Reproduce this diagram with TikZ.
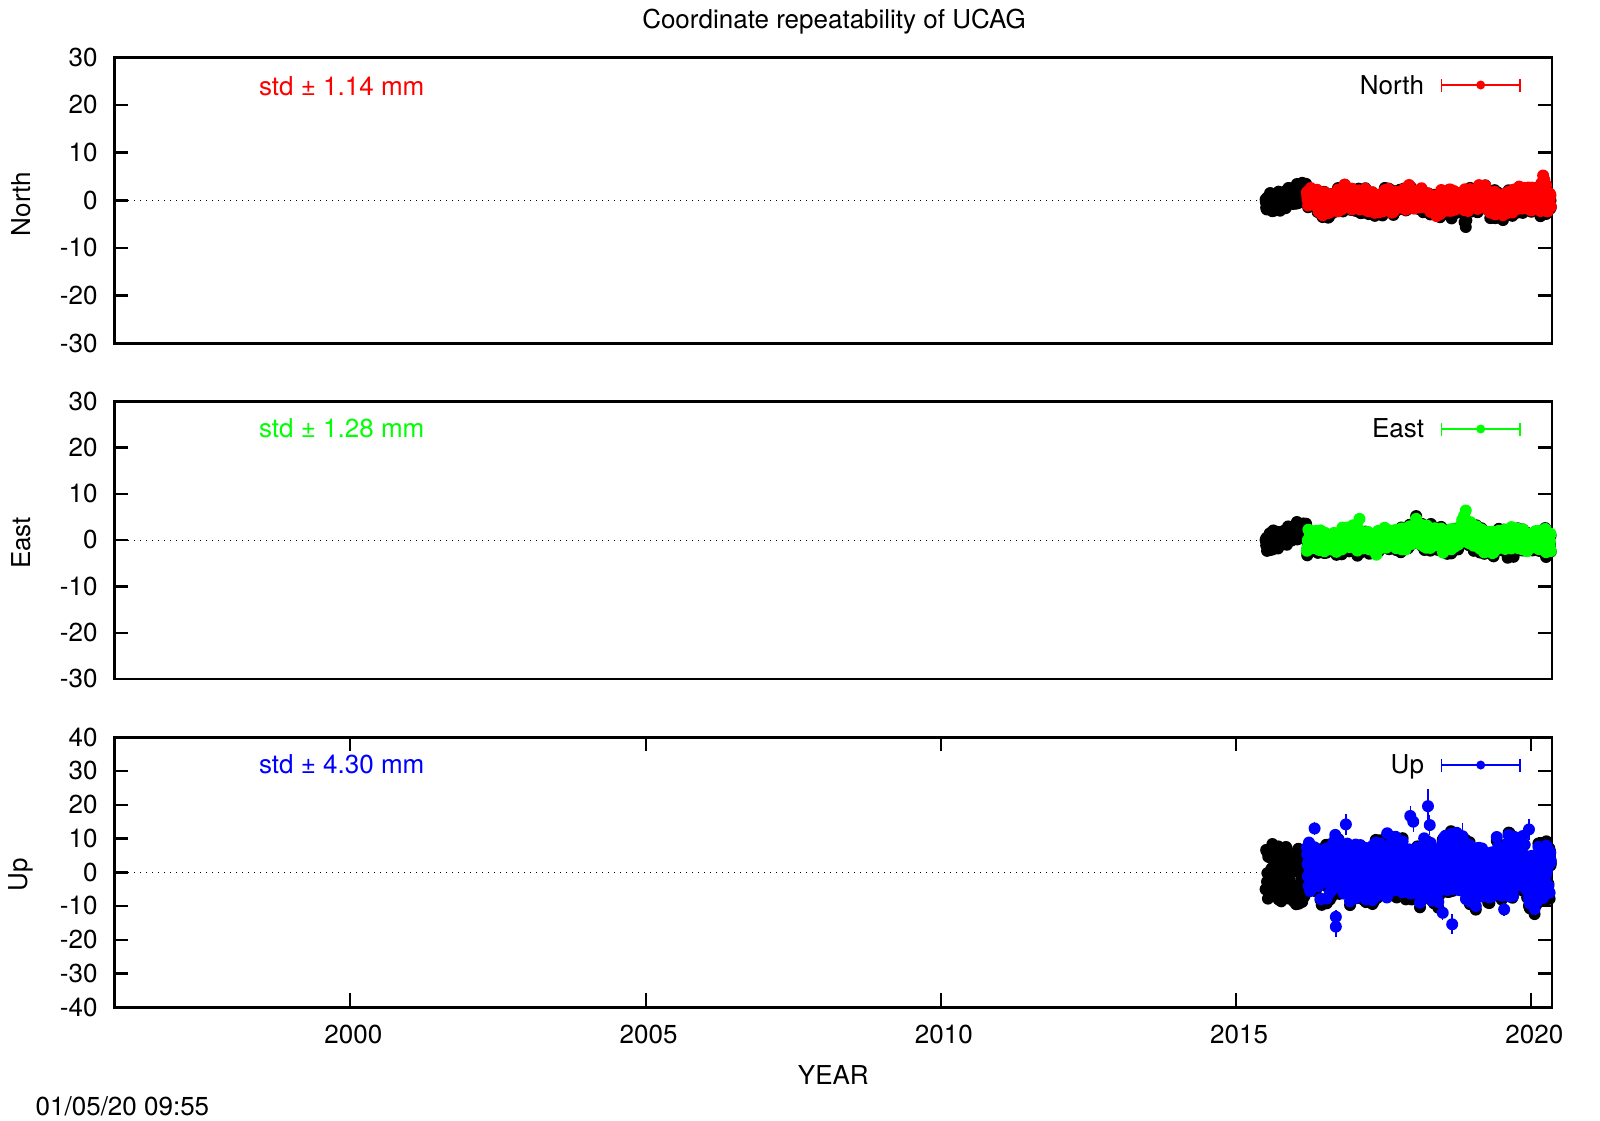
\documentclass[tikz,border=0pt]{standalone}
\usepackage{fontspec}
\setmainfont{TeX Gyre Heros}
\definecolor{gpred}{RGB}{255,0,0}
\definecolor{gpgreen}{RGB}{0,255,0}
\definecolor{gpblue}{RGB}{0,0,255}
\begin{document}
\begin{tikzpicture}[x=1bp,y=-1bp,
  txt/.style={font=\fontsize{26bp}{30bp}\selectfont,inner sep=0pt,outer sep=0pt},
  frm/.style={line width=2.4bp},
  tk/.style={line width=2.4bp},
  xtk/.style={line width=2bp},
  zeroline/.style={line width=1.1bp,dash pattern=on 1.1bp off 4.9bp},
  ebar/.style={line width=1.4bp},
]
\useasboundingbox (0,0) rectangle (1600,1120);

% ---------- title, axis labels, timestamp
\node[txt,anchor=base] (title) at (834,28.3) {Coordinate repeatability of UCAG};
\node[txt,anchor=base] (xlab) at (833.3,1084.3) {YEAR};
\node[txt,anchor=base west] (stamp) at (35.7,1115) {01/05/20 09:55};
\node[txt,rotate=90] (ylN) at (21,204) {North};
\node[txt,rotate=90] (ylE) at (21,543) {East};
\node[txt,rotate=90] (ylU) at (21,875) {Up};

% ---------- frames
\draw[frm] (114.3,57.3) rectangle (1551.7,343.3);
\draw[frm] (114.3,401.3) rectangle (1551.7,679);
\draw[frm] (114.3,737.3) rectangle (1551.7,1007.3);

% ---------- y ticks panel 1
\foreach \v [count=\k] in {-30,-20,...,30}{
  \pgfmathsetmacro\py{200.3-(\v)*4.7667}
  \draw[tk] (114.3,\py) -- (128.3,\py) (1551.7,\py) -- (1537.7,\py);
  \node[txt,anchor=base east] (pNl\k) at (97.5,\py+8.7) {\v};
}
% ---------- y ticks panel 2
\foreach \v [count=\k] in {-30,-20,...,30}{
  \pgfmathsetmacro\py{540.15-(\v)*4.6283}
  \draw[tk] (114.3,\py) -- (128.3,\py) (1551.7,\py) -- (1537.7,\py);
  \node[txt,anchor=base east] (pEl\k) at (97.5,\py+8.7) {\v};
}
% ---------- y ticks panel 3
\foreach \v [count=\k] in {-40,-30,...,40}{
  \pgfmathsetmacro\py{872.3-(\v)*3.375}
  \draw[tk] (114.3,\py) -- (128.3,\py) (1551.7,\py) -- (1537.7,\py);
  \node[txt,anchor=base east] (pUl\k) at (97.5,\py+8.7) {\v};
}
% ---------- x ticks panel 3
\foreach \yr [count=\k] in {2000,2005,2010,2015,2020}{
  \pgfmathsetmacro\px{350.3+(\yr-2000)*59.05}
  \draw[xtk] (\px,1007.3) -- (\px,993.3) (\px,737.3) -- (\px,751.3);
  \node[txt,anchor=base] (xl\k) at (\px+3,1043.3) {\yr};
}

% ---------- zero lines
\draw[zeroline] (128,200.3) -- (1550,200.3);
\draw[zeroline] (128,540.15) -- (1550,540.15);
\draw[zeroline] (128,872.3) -- (1550,872.3);

% ================= NORTH data
\pgfmathsetseed{11}
\foreach \i in {0,...,826}{
  \pgfmathsetmacro\u{1.2+0.005*\i}
  \pgfmathsetmacro\v{0.5*sin(360*(\u-1.75))+0.4*sin(610*\u+30)+1.9*rand+1.0*rand}
  \expandafter\xdef\csname dN\i\endcsname{\v}
}
\foreach \i in {0,...,139}{
  \pgfmathsetmacro\u{0.5+0.005*\i}
  \pgfmathsetmacro\v{-1+3.2*(\u-0.5)/0.7+1.6*rand+0.8*rand}
  \pgfmathsetmacro\px{350.3+(15+\u)*59.05}
  \fill (\px,{200.3-(\v)*4.7667}) circle[radius=6bp];
}
\foreach \i in {0,...,826}{
  \edef\vv{\csname dN\i\endcsname}
  \pgfmathsetmacro\v{\vv+0.8*rand-0.35}
  \pgfmathsetmacro\px{1306.91+0.29525*\i}
  \fill (\px,{200.3-(\v)*4.7667}) circle[radius=6bp];
}
\foreach \yr/\v in {2018.89/-5.6,2018.87/-4.6,2018.65/-3.8,2018.9/-4.2}{
  \fill ({350.3+(\yr-2000)*59.05},{200.3-(\v)*4.7667}) circle[radius=6bp];
}
\foreach \i in {0,...,826}{
  \edef\vv{\csname dN\i\endcsname}
  \pgfmathsetmacro\px{1306.91+0.29525*\i}
  \fill[gpred] (\px,{200.3-(\vv)*4.7667}) circle[radius=6bp];
}
\foreach \yr/\v in {2020.2/5.2,2020.22/4.3,2020.17/3.6,2020.25/3.2}{
  \fill[gpred] ({350.3+(\yr-2000)*59.05},{200.3-(\v)*4.7667}) circle[radius=6bp];
}

% ================= EAST data
\pgfmathsetseed{23}
\foreach \i in {0,...,826}{
  \pgfmathsetmacro\u{1.2+0.005*\i}
  \pgfmathsetmacro\v{0.3*sin(360*(\u-1.6))+0.4*sin(540*\u+100)+1.5*max(0,1-abs(\u-3.05)/0.25)+1.6*max(0,1-abs(\u-3.9)/0.3)+1.8*rand+1.0*rand}
  \expandafter\xdef\csname dE\i\endcsname{\v}
}
\foreach \i in {0,...,139}{
  \pgfmathsetmacro\u{0.5+0.005*\i}
  \pgfmathsetmacro\v{-0.7+2.4*(\u-0.5)/0.5-ifthenelse(\u>1.0,4*(\u-1.0),0)+1.5*rand+0.8*rand}
  \pgfmathsetmacro\px{350.3+(15+\u)*59.05}
  \fill (\px,{540.15-(\v)*4.6283}) circle[radius=6bp];
}
\foreach \i in {0,...,826}{
  \edef\vv{\csname dE\i\endcsname}
  \pgfmathsetmacro\v{\vv+0.8*rand-0.35}
  \pgfmathsetmacro\px{1306.91+0.29525*\i}
  \fill (\px,{540.15-(\v)*4.6283}) circle[radius=6bp];
}
\foreach \yr/\v in {2018.05/5.2,2019.6/-3.8,2019.7/-3.6,2018.3/3.5}{
  \fill ({350.3+(\yr-2000)*59.05},{540.15-(\v)*4.6283}) circle[radius=6bp];
}
\foreach \i in {0,...,826}{
  \edef\vv{\csname dE\i\endcsname}
  \pgfmathsetmacro\px{1306.91+0.29525*\i}
  \fill[gpgreen] (\px,{540.15-(\vv)*4.6283}) circle[radius=6bp];
}
\foreach \yr/\v in {2017.09/4.6,2018.89/6.4,2018.86/5.2,2018.05/4.6,2018.83/4.4}{
  \fill[gpgreen] ({350.3+(\yr-2000)*59.05},{540.15-(\v)*4.6283}) circle[radius=6bp];
}

% ================= UP data
\pgfmathsetseed{37}
\foreach \i in {0,...,826}{
  \pgfmathsetmacro\u{1.2+0.005*\i}
  \pgfmathsetmacro\v{0.8+1.2*sin(360*(\u-1.4))+0.8*sin(700*\u)+7.3*rand+3*rand}
  \expandafter\xdef\csname dU\i\endcsname{\v}
}
\foreach \i in {0,...,139}{
  \pgfmathsetmacro\u{0.5+0.005*\i}
  \pgfmathsetmacro\v{-0.6+9*rand}
  \pgfmathsetmacro\px{350.3+(15+\u)*59.05}
  \fill (\px,{872.3-(\v)*3.375}) circle[radius=6bp];
}
\foreach \i in {0,...,826}{
  \edef\vv{\csname dU\i\endcsname}
  \pgfmathsetmacro\v{\vv+1.8*rand-0.5}
  \pgfmathsetmacro\px{1306.91+0.29525*\i}
  \fill (\px,{872.3-(\v)*3.375}) circle[radius=6bp];
}
\foreach \i in {0,...,826}{
  \edef\vv{\csname dU\i\endcsname}
  \pgfmathsetmacro\px{1306.91+0.29525*\i}
  \fill[gpblue] (\px,{872.3-(\vv)*3.375}) circle[radius=6bp];
}
\foreach \yr/\v/\e in {2018.25/19.6/5,2017.95/16.7/3,2018.0/15/3,2016.86/14.2/3,2016.33/13/2,2016.69/-16.1/3,2016.69/-13.2/2,2018.66/-15.4/3,2018.5/-12/2,2019.54/-11/2,2019.96/12.7/3,2018.83/10.5/4,2018.28/14/3}{
  \pgfmathsetmacro\px{350.3+(\yr-2000)*59.05}
  \pgfmathsetmacro\py{872.3-(\v)*3.375}
  \draw[gpblue,ebar] (\px,{\py-\e*3.375}) -- (\px,{\py+\e*3.375});
  \fill[gpblue] (\px,\py) circle[radius=6bp];
}

% ---------- std labels
\node[txt,anchor=base west,text=gpred] (stdN) at (259,95) {std ± 1.14 mm};
\node[txt,anchor=base west,text=gpgreen] (stdE) at (259,437.3) {std ± 1.28 mm};
\node[txt,anchor=base west,text=gpblue] (stdU) at (259,773.3) {std ± 4.30 mm};

% ---------- legends
\node[txt,anchor=base east] (legN) at (1424,94) {North};
\coordinate (lNa) at (1441.3,85); \coordinate (lNb) at (1520,85);
\draw[gpred,ebar] (lNa) -- (lNb) ([yshift=-6.5bp]lNa) -- ([yshift=6.5bp]lNa) ([yshift=-6.5bp]lNb) -- ([yshift=6.5bp]lNb);
\fill[gpred] (1480.7,85) circle[radius=4.5bp];

\node[txt,anchor=base east] (legE) at (1424,437.7) {East};
\coordinate (lEa) at (1441.3,429); \coordinate (lEb) at (1520,429);
\draw[gpgreen,ebar] (lEa) -- (lEb) ([yshift=-6.5bp]lEa) -- ([yshift=6.5bp]lEa) ([yshift=-6.5bp]lEb) -- ([yshift=6.5bp]lEb);
\fill[gpgreen] (1480.7,429) circle[radius=4.5bp];

\node[txt,anchor=base east] (legU) at (1424,773.3) {Up};
\coordinate (lUa) at (1441.3,765); \coordinate (lUb) at (1520,765);
\draw[gpblue,ebar] (lUa) -- (lUb) ([yshift=-6.5bp]lUa) -- ([yshift=6.5bp]lUa) ([yshift=-6.5bp]lUb) -- ([yshift=6.5bp]lUb);
\fill[gpblue] (1480.7,765) circle[radius=4.5bp];
\end{tikzpicture}
\end{document}
